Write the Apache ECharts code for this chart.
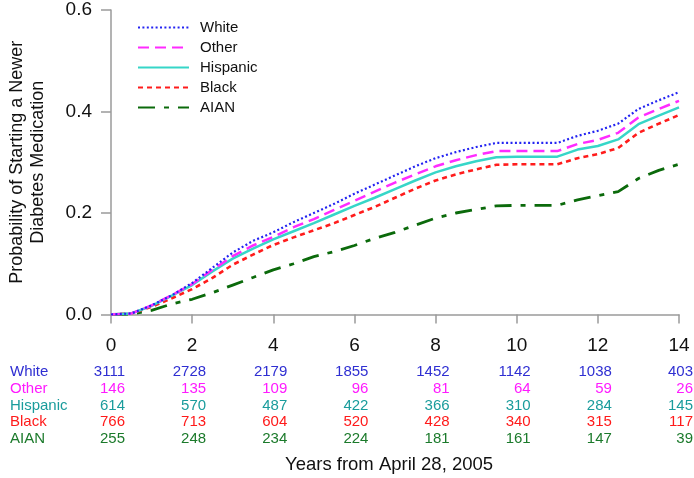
<!DOCTYPE html>
<html>
<head>
<meta charset="utf-8">
<script src="https://cdn.jsdelivr.net/npm/echarts@6/dist/echarts.min.js"></script>
<style>html,body{margin:0;padding:0;background:#fff}#c{width:694px;height:478px}</style>
</head>
<body>
<div id="c"></div>
<script>
const years = [0,0.5,1,1.5,2,2.5,3,3.5,4,4.5,5,5.5,6,6.5,7,7.5,8,8.5,9,9.5,10,10.5,11,11.5,12,12.5,13,13.5,14];
const white    = [0,0.002,0.018,0.038,0.062,0.092,0.122,0.145,0.162,0.182,0.200,0.218,0.238,0.256,0.274,0.292,0.308,0.320,0.330,0.338,0.338,0.338,0.338,0.352,0.362,0.376,0.405,0.422,0.438];
const other    = [0,0.002,0.018,0.038,0.060,0.088,0.115,0.136,0.153,0.172,0.188,0.206,0.224,0.242,0.260,0.276,0.292,0.304,0.314,0.322,0.322,0.322,0.322,0.336,0.344,0.358,0.388,0.405,0.421];
const hispanic = [0,0.002,0.017,0.037,0.058,0.085,0.110,0.130,0.148,0.164,0.180,0.197,0.214,0.230,0.247,0.264,0.280,0.292,0.302,0.310,0.311,0.311,0.311,0.325,0.332,0.345,0.375,0.392,0.408];
const black    = [0,0.002,0.015,0.032,0.050,0.072,0.098,0.118,0.137,0.152,0.166,0.180,0.196,0.212,0.230,0.248,0.264,0.276,0.286,0.295,0.296,0.296,0.296,0.308,0.316,0.328,0.358,0.376,0.393];
const aian     = [0,0.001,0.008,0.021,0.030,0.043,0.058,0.073,0.088,0.100,0.114,0.124,0.136,0.150,0.162,0.176,0.190,0.200,0.207,0.214,0.215,0.215,0.215,0.226,0.234,0.242,0.268,0.284,0.296];

const groups = ['White','Other','Hispanic','Black','AIAN'];
const riskTimes = [0,2,4,6,8,10,12,14];
const riskWhite    = [3111,2728,2179,1855,1452,1142,1038,403];
const riskOther    = [146,135,109,96,81,64,59,26];
const riskHispanic = [614,570,487,422,366,310,284,145];
const riskBlack    = [766,713,604,520,428,340,315,117];
const riskAian     = [255,248,234,224,181,161,147,39];

const FONT = '"Liberation Sans", Arial, sans-serif';
const lineCols = {White:'#2424f2', Other:'#ff2bff', Hispanic:'#36d6c8', Black:'#ff1c1c', AIAN:'#0b6a0b'};
const textCols = {White:'#2f2fd2', Other:'#ff1aff', Hispanic:'#1a9c9c', Black:'#ff1a1a', AIAN:'#1b7a2b'};
const dash = {White:[2,2.4], Other:[11,6], Hispanic:'solid', Black:[5,4], AIAN:[17,9,5,9]};
const widths = {White:2.2, Other:2.5, Hispanic:2.5, Black:2.6, AIAN:2.8};
const curves = {White:white, Other:other, Hispanic:hispanic, Black:black, AIAN:aian};
const risks = {White:riskWhite, Other:riskOther, Hispanic:riskHispanic, Black:riskBlack, AIAN:riskAian};

const lineSeries = groups.map(g => ({
  name: g, type: 'line', xAxisIndex: 0, yAxisIndex: 0,
  symbol: 'none', smooth: false,
  lineStyle: {color: lineCols[g], width: widths[g], type: dash[g], cap: 'butt'},
  itemStyle: {color: lineCols[g]},
  data: years.map((t,i) => [t, curves[g][i]]),
  z: 10 - groups.indexOf(g)
}));

const tableSeries = groups.map(g => ({
  name: 'n-' + g, type: 'scatter', xAxisIndex: 1, yAxisIndex: 1,
  symbolSize: 1, itemStyle: {color: 'rgba(0,0,0,0)'},
  label: {show: true, position: 'inside', align: 'right', offset: [14, 0],
    textBorderWidth: 0, textBorderColor: 'transparent', opacity: 1,
    formatter: p => String(p.value[2]), color: textCols[g], fontSize: 15, fontFamily: FONT},
  data: riskTimes.map((t,i) => [t, g, risks[g][i]])
}));

const chart = echarts.init(document.getElementById('c'), null, {renderer: 'canvas'});
chart.setOption({
  animation: false,
  backgroundColor: '#fff',
  textStyle: {fontFamily: FONT},
  grid: [
    {left: 111, right: 15, top: 10, bottom: 163.5, outerBoundsMode: 'none', containLabel: false},
    {left: 111, right: 15, top: 363.6, height: 83.75, outerBoundsMode: 'none', containLabel: false}
  ],
  legend: {
    data: groups, orient: 'vertical', left: 132, top: 14,
    itemWidth: 51, itemHeight: 12, itemGap: 3,
    itemStyle: {opacity: 0},
    textStyle: {fontSize: 15, lineHeight: 17, color: '#111', fontFamily: FONT, padding: [0,0,0,6]}
  },
  xAxis: [
    {type: 'value', gridIndex: 0, min: 0, max: 14, interval: 2, offset: 5,
     axisLine: {show: true, lineStyle: {color: '#9a9a9a', width: 1.5}},
     axisTick: {show: true, length: 9, lineStyle: {color: '#9a9a9a', width: 1.5}},
     axisLabel: {fontSize: 19, color: '#111', margin: 17, fontFamily: FONT},
     splitLine: {show: false}},
    {type: 'value', gridIndex: 1, min: 0, max: 14, show: false}
  ],
  yAxis: [
    {type: 'value', gridIndex: 0, min: 0, max: 0.6, interval: 0.2, offset: 4,
     name: 'Probability of Starting a Newer\nDiabetes Medication',
     nameLocation: 'middle', nameGap: 58, nameRotate: 90,
     nameTextStyle: {fontSize: 18, color: '#111', lineHeight: 21, fontFamily: FONT},
     axisLine: {show: true, lineStyle: {color: '#9a9a9a', width: 1.5}},
     axisTick: {show: true, length: 10, lineStyle: {color: '#9a9a9a', width: 1.5}},
     axisLabel: {fontSize: 19, color: '#111', margin: 15, formatter: v => v.toFixed(1), fontFamily: FONT},
     splitLine: {show: false}},
    {type: 'category', gridIndex: 1, data: groups, inverse: true,
     axisLine: {show: false}, axisTick: {show: false}, splitLine: {show: false},
     axisLabel: {show: true, interval: 0, align: 'left', margin: 101, fontSize: 15, fontFamily: FONT,
       color: (v) => textCols[v]}}
  ],
  graphic: [
    {type: 'text', left: 285, top: 455, style: {text: 'Years from April 28, 2005', fontSize: 18.5, fill: '#111', fontFamily: FONT}}
  ],
  series: lineSeries.concat(tableSeries)
});
</script>
</body>
</html>
